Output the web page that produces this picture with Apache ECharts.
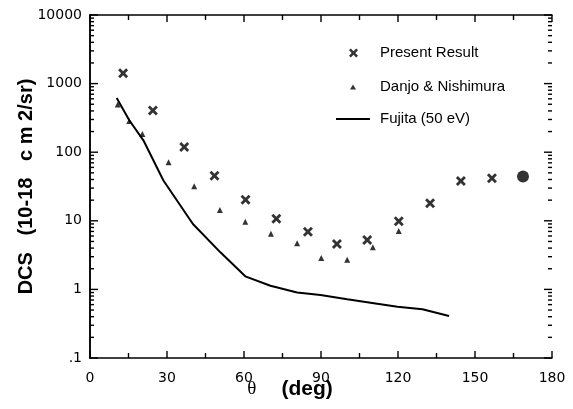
<!DOCTYPE html>
<html>
<head>
<meta charset="utf-8">
<script src="https://cdn.jsdelivr.net/npm/echarts@6/dist/echarts.min.js"></script>
<style>html,body{margin:0;padding:0;background:#fff;}#c{width:573px;height:409px;}</style>
</head>
<body>
<div id="c"></div>
<script>
// ---- data ----
const presentTheta = [12.9, 24.5, 36.7, 48.5, 60.6, 72.6, 84.9, 96.2, 108.0, 120.3, 132.5, 144.5, 156.6];
const presentDCS   = [1420, 405, 119, 45.3, 20.2, 10.7, 6.95, 4.6, 5.26, 9.84, 18.0, 37.9, 41.8];
const circleTheta  = [168.7];
const circleDCS    = [44.3];
const danjoTheta   = [10.8, 15.3, 20.4, 30.6, 40.6, 50.6, 60.5, 70.5, 80.7, 90.1, 100.2, 110.2, 120.3];
const danjoDCS     = [494, 285, 184, 71.6, 31.9, 14.4, 9.7, 6.5, 4.69, 2.87, 2.71, 4.1, 7.1];
const fujitaTheta  = [10.4, 15.3, 20.8, 28.6, 40.1, 50.8, 60.5, 70.3, 80.7, 89.8, 100.2, 110.6, 119.8, 129.5, 139.9];
const fujitaDCS    = [618, 292, 149, 38.7, 9.0, 3.47, 1.55, 1.13, 0.90, 0.83, 0.72, 0.63, 0.56, 0.515, 0.41];
const xTicks = [0, 30, 60, 90, 120, 150, 180];
const xMinorTicks = [15, 45, 75, 105, 135, 165];
const yTicks = [0.1, 1, 10, 100, 1000, 10000];
const yMinorTicks = [];
yTicks.slice(0, -1).forEach(d => { for (let k = 2; k <= 9; k++) yMinorTicks.push(+(d * k).toPrecision(3)); });

const zip = (a, b) => a.map((v, i) => [v, b[i]]);
const xPath = 'path://M0,2 L2,0 L5,3 L8,0 L10,2 L7,5 L10,8 L8,10 L5,7 L2,10 L0,8 L3,5 Z';

const chart = echarts.init(document.getElementById('c'));
const lineW = 1.5;
const xMin = xTicks[0], xMax = xTicks[xTicks.length - 1];
const yMin = yTicks[0], yMax = yTicks[yTicks.length - 1];
const baseX = {
  type: 'value', min: xMin, max: xMax, interval: 30,
  axisLine: { show: true, onZero: false, lineStyle: { color: '#000', width: lineW } },
  axisTick: { show: false }, minorTick: { show: false },
  splitLine: { show: false }
};
const baseY = {
  type: 'log', logBase: 10, min: yMin, max: yMax,
  axisTick: { show: false }, minorTick: { show: false },
  splitLine: { show: false }
};
const legendText = (p) => ({ fontSize: 15, lineHeight: 16, fontFamily: 'Liberation Sans', color: '#000', padding: [0, 0, 0, p] });
const tickStyle = { stroke: '#000', lineWidth: 1.4 };
// tick marks drawn inside the frame on all four sides, positioned by the axes' own scales
const yTickData = yTicks.map(v => [xMin, v, 8]).concat(yMinorTicks.map(v => [xMin, v, 4]));
const xTickData = xTicks.map(v => [v, yMin, 7]).concat(xMinorTicks.map(v => [v, yMin, 5]));

chart.setOption({
  animation: false,
  backgroundColor: '#fff',
  grid: { left: 90, right: 21, top: 15, bottom: 51 },
  xAxis: [
    Object.assign({}, baseX, {
      position: 'bottom',
      axisLabel: { margin: 13, fontSize: 14, fontFamily: 'DejaVu Sans', color: '#000' },
      name: '{t|θ}{d|(deg)}',
      nameLocation: 'middle', nameGap: 21, nameMoveOverlap: false,
      nameTextStyle: {
        color: '#000', padding: [0, 62, 0, 0],
        rich: {
          t: { fontSize: 19, fontFamily: 'Liberation Serif', color: '#000', padding: [0, 25, 0, 0] },
          d: { fontSize: 21, fontWeight: 'bold', fontFamily: 'Liberation Sans', color: '#000' }
        }
      }
    }),
    Object.assign({}, baseX, { position: 'top', axisLabel: { show: false } })
  ],
  yAxis: [
    Object.assign({}, baseY, {
      position: 'left',
      axisLine: { show: true, lineStyle: { color: '#000', width: lineW } },
      axisLabel: {
        margin: 8, fontSize: 14, fontFamily: 'DejaVu Sans', color: '#000',
        formatter: v => (v < 0.5 ? '.1' : String(Math.round(v)))
      },
      name: 'DCS   (10-18   c m 2/sr)',
      nameLocation: 'middle', nameRotate: 90, nameGap: 54, nameMoveOverlap: false,
      nameTextStyle: { fontSize: 20, fontWeight: 'bold', fontFamily: 'Liberation Sans', color: '#000' }
    }),
    Object.assign({}, baseY, {
      position: 'right',
      axisLine: { show: true, lineStyle: { color: '#000', width: lineW } },
      axisLabel: { show: false }
    })
  ],
  legend: [
    { data: [{ name: 'Present Result', icon: xPath }], orient: 'vertical', left: 349, top: 45, padding: 0,
      itemWidth: 9, itemHeight: 9, textStyle: legendText(17) },
    { data: [{ name: 'Danjo & Nishimura', icon: 'triangle' }], orient: 'vertical', left: 350, top: 79, padding: 0,
      itemWidth: 6, itemHeight: 5, textStyle: legendText(19) },
    { data: [{ name: 'Fujita (50 eV)', icon: 'rect' }], orient: 'vertical', left: 336, top: 111, padding: 0,
      itemWidth: 34, itemHeight: 2, textStyle: legendText(5) }
  ],
  series: [
    { name: 'yTicks', type: 'custom', silent: true, clip: false, z: 1,
      data: yTickData,
      renderItem: (params, api) => {
        const v = api.value(1), len = api.value(2);
        const l = api.coord([xMin, v]);
        const r = api.coord([xMax, v]);
        return { type: 'group', children: [
          { type: 'line', shape: { x1: l[0], y1: l[1], x2: l[0] + len, y2: l[1] }, style: tickStyle },
          { type: 'line', shape: { x1: r[0] - len, y1: r[1], x2: r[0], y2: r[1] }, style: tickStyle }
        ] };
      }
    },
    { name: 'xTicks', type: 'custom', silent: true, clip: false, z: 1,
      data: xTickData,
      renderItem: (params, api) => {
        const v = api.value(0), len = api.value(2);
        const b = api.coord([v, yMin]);
        const t = api.coord([v, yMax]);
        return { type: 'group', children: [
          { type: 'line', shape: { x1: b[0], y1: b[1], x2: b[0], y2: b[1] - len }, style: tickStyle },
          { type: 'line', shape: { x1: t[0], y1: t[1], x2: t[0], y2: t[1] + len }, style: tickStyle }
        ] };
      }
    },
    { name: 'Fujita (50 eV)', type: 'line', data: zip(fujitaTheta, fujitaDCS), symbol: 'none',
      lineStyle: { color: '#000', width: 2 }, itemStyle: { color: '#000' } },
    { name: 'Danjo & Nishimura', type: 'scatter', data: zip(danjoTheta, danjoDCS), symbol: 'triangle', symbolSize: 6,
      itemStyle: { color: '#000' } },
    { name: 'Present Result', type: 'scatter', data: zip(presentTheta, presentDCS), symbol: xPath, symbolSize: 10,
      itemStyle: { color: '#000' } },
    { name: 'circle', type: 'scatter', data: zip(circleTheta, circleDCS), symbol: 'circle', symbolSize: 12,
      itemStyle: { color: '#000' } }
  ]
});
</script>
</body>
</html>
